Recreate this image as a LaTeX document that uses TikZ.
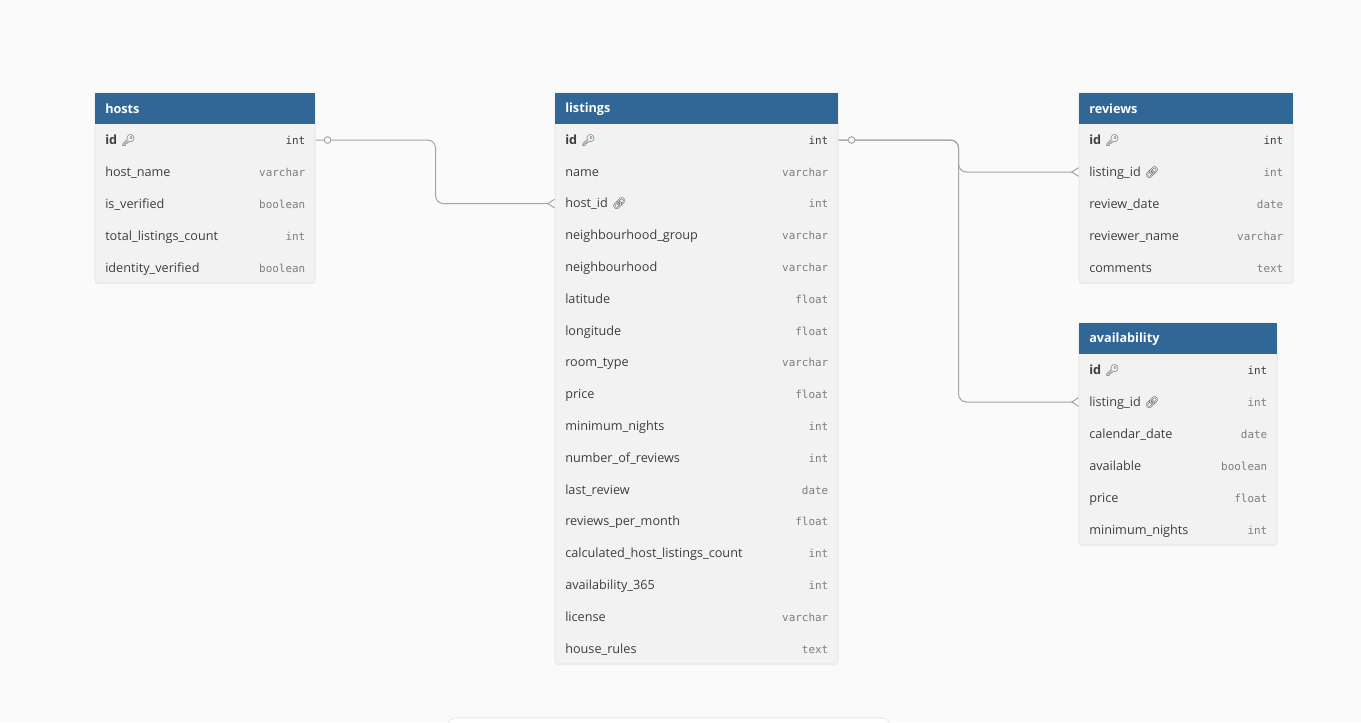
\documentclass[tikz,border=0pt]{standalone}
\usepackage{fontspec}
\setmainfont{Open Sans}
\setmonofont{DejaVu Sans Mono}
\newfontfamily\emojifont{Noto Emoji}
\usetikzlibrary{arrows.meta,positioning,shadows}

\definecolor{bgcol}{RGB}{250,250,250}
\definecolor{hdrcol}{RGB}{49,103,150}
\definecolor{rowcol}{RGB}{242,242,242}
\definecolor{edgecol}{RGB}{226,226,226}
\definecolor{namecol}{RGB}{62,62,62}
\definecolor{typecol}{RGB}{125,125,125}
\definecolor{relcol}{RGB}{160,164,172}

\newcommand\keyic{{\emojifont\fontsize{8.5}{9}\selectfont\color{namecol}\char"1F511}}
\newcommand\linkic{{\emojifont\fontsize{8.5}{9}\selectfont\color{namecol}\char"1F517}}
\newcommand\typefont{\ttfamily\fontsize{8.2}{10}\selectfont\color{typecol}}

\tikzset{
  tblbody/.style={fill=rowcol, draw=edgecol, rounded corners=2pt,
    drop shadow={opacity=0.07, shadow xshift=0pt, shadow yshift=-1pt}},
  tblhead/.style={fill=hdrcol, text=white, anchor=north west, inner xsep=7.5pt,
    inner ysep=0pt, minimum height=23.25pt, align=left,
    font=\bfseries\fontsize{9.5}{11}\selectfont},
  field/.style={anchor=west, inner xsep=7.5pt, inner ysep=0pt, minimum height=23.5pt,
    text height=8pt, text depth=1.5pt,
    align=left, text=namecol, font=\fontsize{9.5}{11}\selectfont},
  rel/.style={draw=relcol, line width=0.75pt, rounded corners=6pt,
    -{Straight Barb[reversed, length=5pt, width=6.5pt]}},
  ring/.style={circle, draw=relcol, fill=bgcol, line width=0.7pt, inner sep=0pt,
    minimum size=5pt},
}

\begin{document}
\begin{tikzpicture}[x=0.75pt, y=-0.75pt]
\useasboundingbox (0,0) rectangle (1361,722);
\fill[bgcol] (0,0) rectangle (1361,722);

% hosts
\path[tblbody] (95,93) rectangle (315,283);
\node[tblhead, text width=150pt] (hosts) at (95,93) {hosts};
\node[field, text width=150pt] (hosts-1) at (95,140) {\textbf{id} \keyic\hfill{\typefont\color{namecol}int}};
\foreach \fname/\ftyp [count=\i from 2] in {host\_name/varchar, is\_verified/boolean,
    total\_listings\_count/int, identity\_verified/boolean}
  \node[field, text width=150pt] (hosts-\i) at (95,{140+(\i-1)*32}) {\fname\hfill{\typefont \ftyp}};

% listings
\path[tblbody] (555,93) rectangle (838,664);
\node[tblhead, text width=197.25pt] (listings) at (555,93) {listings};
\node[field, text width=197.25pt] (listings-1) at (555,140) {\textbf{id} \keyic\hfill{\typefont\color{namecol}int}};
\foreach \fname/\ftyp [count=\i from 2] in {name/varchar, host\_id \linkic/int,
    neighbourhood\_group/varchar, neighbourhood/varchar, latitude/float, longitude/float,
    room\_type/varchar, price/float, minimum\_nights/int, number\_of\_reviews/int,
    last\_review/date, reviews\_per\_month/float, calculated\_host\_listings\_count/int,
    availability\_365/int, license/varchar, house\_rules/text}
  \node[field, text width=197.25pt] (listings-\i) at (555,{140+(\i-1)*31.8}) {\fname\hfill{\typefont \ftyp}};

% reviews
\path[tblbody] (1079,93) rectangle (1293,283);
\node[tblhead, text width=145.5pt] (reviews) at (1079,93) {reviews};
\node[field, text width=145.5pt] (reviews-1) at (1079,140) {\textbf{id} \keyic\hfill{\typefont\color{namecol}int}};
\foreach \fname/\ftyp [count=\i from 2] in {listing\_id \linkic/int, review\_date/date,
    reviewer\_name/varchar, comments/text}
  \node[field, text width=145.5pt] (reviews-\i) at (1079,{140+(\i-1)*32}) {\fname\hfill{\typefont \ftyp}};

% availability
\path[tblbody] (1079,323) rectangle (1277,545);
\node[tblhead, text width=133.5pt] (availability) at (1079,323) {availability};
\node[field, text width=133.5pt] (availability-1) at (1079,370) {\textbf{id} \keyic\hfill{\typefont\color{namecol}int}};
\foreach \fname/\ftyp [count=\i from 2] in {listing\_id \linkic/int, calendar\_date/date,
    available/boolean, price/float, minimum\_nights/int}
  \node[field, text width=133.5pt] (availability-\i) at (1079,{370+(\i-1)*32}) {\fname\hfill{\typefont \ftyp}};

% relations
\draw[rel] (hosts-1.east) -- ++(12,0) node[ring] {} -- ++(108,0) |- (listings-3.west);
\draw[rel] (listings-1.east) -- ++(120,0) |- (availability-2.west);
\draw[rel] (listings-1.east) -- ++(13,0) node[ring] {} -- ++(107,0) |- (reviews-2.west);

% panel at the lower edge
\path[fill=white, draw=edgecol, rounded corners=6pt] (448,718) rectangle (890,760);
\end{tikzpicture}
\end{document}
